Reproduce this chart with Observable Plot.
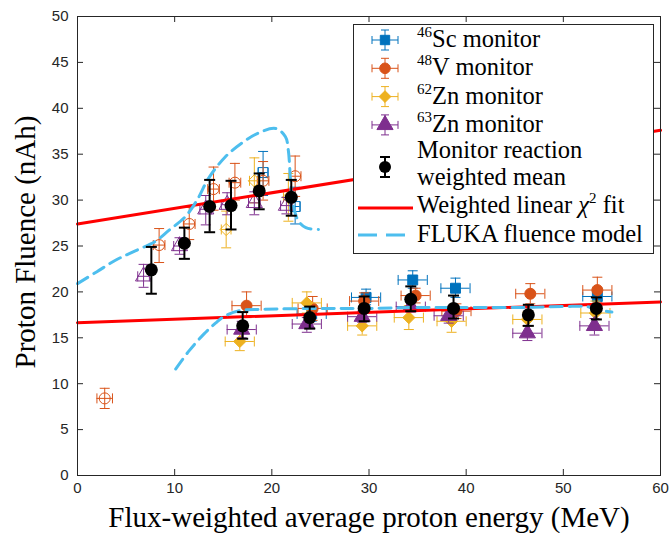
<!DOCTYPE html>
<html><head><meta charset="utf-8">
<script src="https://cdn.jsdelivr.net/npm/d3@7"></script>
<script src="https://cdn.jsdelivr.net/npm/@observablehq/plot@0.6"></script>
<style>
body{margin:0;background:#fff}
#wrap{position:relative;width:670px;height:533px;overflow:hidden;background:#fff}
#legend{position:absolute;left:353px;top:24px}
</style></head><body><div id="wrap"></div>
<script>
// ---- data ----
const xTicks = [0, 10, 20, 30, 40, 50, 60];
const yTicks = [0, 5, 10, 15, 20, 25, 30, 35, 40, 45, 50];
const xTitle = "Flux-weighted average proton energy (MeV)";
const yTitle = "Proton Fluence (nAh)";

// 46Sc monitor
const scX   = [19.1, 22.4, 24.1, 29.7, 34.5, 38.9, 53.5];
const scY   = [33.0, 29.3, 17.6, 19.4, 21.3, 20.4, 19.5];
const scLo  = [30.5, 27.4, 16.8, 18.6, 20.4, 19.4, 18.6];
const scHi  = [35.3, 31.4, 18.4, 20.3, 22.3, 21.5, 20.4];
const scXe  = [0.5, 0.5, 1.5, 1.5, 1.5, 1.5, 1.5];
const scOpen= [1, 1, 0, 0, 0, 0, 0];

// 48V monitor
const vX   = [2.8, 8.4, 11.5, 14.0, 16.2, 19.1, 22.4, 17.4, 24.2, 29.5, 34.8, 39.0, 46.6, 53.5];
const vY   = [8.4, 25.1, 27.4, 31.2, 31.9, 32.1, 32.6, 18.5, 18.2, 19.0, 19.6, 17.9, 19.8, 20.2];
const vLo  = [7.3, 23.2, 25.7, 28.9, 30.0, 30.0, 30.4, 17.2, 16.9, 18.1, 18.8, 17.1, 18.7, 18.8];
const vHi  = [9.5, 26.9, 29.2, 33.6, 34.0, 34.2, 34.8, 20.0, 19.5, 19.9, 20.4, 18.7, 20.9, 21.6];
const vXe  = [0.8, 0.6, 0.6, 0.6, 0.6, 0.6, 0.6, 1.5, 1.5, 1.5, 1.5, 1.5, 1.5, 1.5];
const vOpen= [1, 1, 1, 1, 1, 1, 1, 0, 0, 0, 0, 0, 0, 0];

// 62Zn monitor
const z62X   = [15.3, 18.2, 21.7, 16.7, 23.6, 29.3, 34.1, 38.5, 46.3, 53.3];
const z62Y   = [26.8, 32.1, 30.3, 14.6, 18.8, 16.3, 17.2, 16.8, 17.0, 17.7];
const z62Lo  = [24.8, 29.7, 27.7, 13.6, 17.7, 15.3, 15.9, 15.6, 16.3, 16.4];
const z62Hi  = [28.8, 34.6, 32.9, 15.6, 20.0, 17.3, 18.5, 17.9, 17.8, 19.0];
const z62Xe  = [0.5, 0.5, 0.5, 1.5, 1.5, 1.5, 1.5, 1.5, 1.5, 1.5];
const z62Open= [1, 1, 1, 0, 0, 0, 0, 0, 0, 0];

// 63Zn monitor
const z63X   = [6.8, 10.5, 13.2, 15.4, 18.2, 21.5, 16.9, 23.6, 29.3, 34.3, 38.2, 46.3, 53.2];
const z63Y   = [21.7, 25.0, 29.0, 29.5, 29.7, 29.4, 15.9, 16.5, 17.3, 18.4, 17.4, 15.5, 16.3];
const z63Lo  = [20.5, 24.1, 27.3, 28.4, 28.4, 28.5, 15.0, 15.6, 16.7, 17.8, 16.6, 14.7, 15.3];
const z63Hi  = [23.0, 25.9, 30.5, 30.8, 30.9, 30.3, 16.8, 17.2, 17.9, 19.0, 18.3, 16.3, 17.1];
const z63Xe  = [0.6, 0.6, 0.6, 0.6, 0.6, 0.6, 1.5, 1.5, 1.5, 1.5, 1.5, 1.5, 1.5];
const z63Open= [1, 1, 1, 1, 1, 1, 0, 0, 0, 0, 0, 0, 0];

// Monitor reaction weighted mean
const mX  = [7.6, 11.0, 13.6, 15.8, 18.7, 22.0, 17.0, 23.9, 29.5, 34.3, 38.7, 46.4, 53.4];
const mY  = [22.4, 25.3, 29.3, 29.4, 31.0, 30.3, 16.3, 17.2, 18.2, 19.2, 18.2, 17.5, 18.2];
const mLo = [19.8, 23.6, 26.5, 26.8, 29.0, 28.3, 14.9, 16.0, 16.8, 17.9, 17.1, 16.3, 17.0];
const mHi = [24.9, 27.0, 32.2, 32.1, 32.9, 32.2, 17.8, 18.4, 19.5, 20.6, 19.6, 18.6, 19.4];

// Weighted linear chi^2 fits
const fitX = [0, 60];
const fitUpper = [27.4, 37.6];
const fitLower = [16.65, 18.9];

// FLUKA fluence model
const fuX = [0, 2, 4, 6, 8, 9.4, 11.1, 12.3, 13.5, 15.2, 16.9, 18.6, 20.4, 21.4, 21.7, 21.9, 22.1, 22.7, 23.5, 24.8];
const fuY = [20.9, 22.2, 23.5, 24.5, 25.5, 26.7, 28.2, 30.0, 32.4, 34.7, 36.2, 37.3, 37.8, 36.9, 35.4, 32.5, 30.0, 27.8, 27.0, 26.8];
const flX = [10.1, 11.5, 13.0, 14.2, 15.2, 16.9, 19.0, 25, 30, 35, 40, 45, 50, 52.5, 53.8, 55.0];
const flY = [11.6, 13.6, 15.4, 16.6, 17.4, 18.0, 18.1, 18.2, 18.2, 18.3, 18.3, 18.3, 18.4, 18.4, 18.0, 17.8];

// legend labels
const legendMonitors = [
  {sup: "46", name: "Sc monitor", color: "#0072BD", symbol: "square"},
  {sup: "48", name: "V monitor", color: "#D95319", symbol: "circle"},
  {sup: "62", name: "Zn monitor", color: "#EDB120", symbol: "diamond2"},
  {sup: "63", name: "Zn monitor", color: "#7E2F8E", symbol: "triangle"}
];

// ---- drawing ----
const W = 670, H = 533, ML = 77, MR = 10, MT = 16, MB = 58;
const PW = W - ML - MR, PH = H - MT - MB;
const AX = "#262626";
const hCap = {draw(ctx, size) { const w = Math.sqrt(size / Math.PI); ctx.moveTo(-w, 0); ctx.lineTo(w, 0); }};
const vCap = {draw(ctx, size) { const w = Math.sqrt(size / Math.PI); ctx.moveTo(0, -w); ctx.lineTo(0, w); }};

function rows(X, Y, Lo, Hi, Xe, Open) {
  return X.map((x, i) => ({x, y: Y[i], lo: Lo[i], hi: Hi[i], xe: Xe ? Xe[i] : 0, open: Open ? Open[i] : 0}));
}
function monitorMarks(d, color, symbol, r) {
  return [
    Plot.ruleX(d, {x: "x", y1: "lo", y2: "hi", stroke: color, strokeWidth: 1}),
    Plot.ruleY(d, {y: "y", x1: e => e.x - e.xe, x2: e => e.x + e.xe, stroke: color, strokeWidth: 1}),
    Plot.dot(d, {x: "x", y: "lo", symbol: hCap, r: 5, stroke: color, fill: "none", strokeWidth: 1}),
    Plot.dot(d, {x: "x", y: "hi", symbol: hCap, r: 5, stroke: color, fill: "none", strokeWidth: 1}),
    Plot.dot(d, {x: e => e.x - e.xe, y: "y", symbol: vCap, r: 5, stroke: color, fill: "none", strokeWidth: 1}),
    Plot.dot(d, {x: e => e.x + e.xe, y: "y", symbol: vCap, r: 5, stroke: color, fill: "none", strokeWidth: 1}),
    Plot.dot(d.filter(e => e.open), {x: "x", y: "y", symbol, r, stroke: color, fill: "none", strokeWidth: 1}),
    Plot.dot(d.filter(e => !e.open), {x: "x", y: "y", symbol, r, stroke: color, fill: color, strokeWidth: 1})
  ];
}

const sc = rows(scX, scY, scLo, scHi, scXe, scOpen);
const v = rows(vX, vY, vLo, vHi, vXe, vOpen);
const z62 = rows(z62X, z62Y, z62Lo, z62Hi, z62Xe, z62Open);
const z63 = rows(z63X, z63Y, z63Lo, z63Hi, z63Xe, z63Open);
const mean = rows(mX, mY, mLo, mHi);
const fitU = fitX.map((x, i) => ({x, y: fitUpper[i]}));
const fitL = fitX.map((x, i) => ({x, y: fitLower[i]}));
const fu = fuX.map((x, i) => ({x, y: fuY[i]}));
const fl = flX.map((x, i) => ({x, y: flY[i]}));

const serif = "'Liberation Serif', 'Times New Roman', serif";
const chart = Plot.plot({
  width: W, height: H,
  marginLeft: ML, marginRight: MR, marginTop: MT, marginBottom: MB,
  x: {domain: [0, 60]},
  y: {domain: [0, 50]},
  style: {fontFamily: "'Liberation Sans', Arial, sans-serif", fontSize: "15px", color: AX, background: "white", overflow: "visible"},
  marks: [
    // inward ticks
    Plot.ruleX(xTicks, {x: d => d, insetTop: PH - 6, stroke: AX}),
    Plot.ruleX(xTicks, {x: d => d, insetBottom: PH - 6, stroke: AX}),
    Plot.ruleY(yTicks, {y: d => d, insetRight: PW - 6, stroke: AX}),
    Plot.ruleY(yTicks, {y: d => d, insetLeft: PW - 6, stroke: AX}),
    Plot.axisX({ticks: xTicks, tickSize: 0, tickPadding: 7, label: null, fill: AX}),
    Plot.axisY({ticks: yTicks, tickSize: 0, tickPadding: 9, label: null, fill: AX}),
    ...monitorMarks(sc, "#0072BD", "square", 5.6),
    ...monitorMarks(v, "#D95319", "circle", 5.5),
    ...monitorMarks(z62, "#EDB120", "diamond2", 5.5),
    ...monitorMarks(z63, "#7E2F8E", "triangle", 6),
    Plot.line(fitU, {x: "x", y: "y", stroke: "#FF0000", strokeWidth: 3}),
    Plot.line(fitL, {x: "x", y: "y", stroke: "#FF0000", strokeWidth: 3}),
    Plot.line(fu, {x: "x", y: "y", stroke: "#4DBEEE", strokeWidth: 3, strokeDasharray: "12,7", curve: "catmull-rom"}),
    Plot.line(fl, {x: "x", y: "y", stroke: "#4DBEEE", strokeWidth: 3, strokeDasharray: "12,7", curve: "catmull-rom"}),
    // weighted mean
    Plot.ruleX(mean, {x: "x", y1: "lo", y2: "hi", stroke: "black", strokeWidth: 2}),
    Plot.dot(mean, {x: "x", y: "lo", symbol: hCap, r: 5.5, stroke: "black", fill: "none", strokeWidth: 2}),
    Plot.dot(mean, {x: "x", y: "hi", symbol: hCap, r: 5.5, stroke: "black", fill: "none", strokeWidth: 2}),
    Plot.dot(mean, {x: "x", y: "y", r: 6.5, fill: "black", stroke: "none"}),
    Plot.frame({stroke: AX, strokeWidth: 1}),
    Plot.text([xTitle], {text: d => d, frameAnchor: "bottom", dy: 51, lineAnchor: "bottom", textAnchor: "middle",
      fontFamily: serif, fontSize: 29, fill: "black"}),
    Plot.text([yTitle], {text: d => d, frameAnchor: "left", dx: -43, dy: -4, rotate: -90, lineAnchor: "bottom", textAnchor: "middle",
      fontFamily: serif, fontSize: 29, fill: "black"})
  ]
});
document.getElementById("wrap").appendChild(chart);

// ---- legend ----
const LW = 300, LH = 229;
const lg = d3.select("#wrap").append("svg").attr("id", "legend")
  .attr("width", LW + 1).attr("height", LH + 1);
lg.append("rect").attr("x", 0.5).attr("y", 0.5).attr("width", LW).attr("height", LH)
  .attr("fill", "white").attr("stroke", AX).attr("stroke-width", 1);
const symX = 32, textX = 64, fs = 24.5;
const symbolMap = {square: d3.symbolSquare, circle: d3.symbolCircle, diamond2: d3.symbolDiamond2, triangle: d3.symbolTriangle};
legendMonitors.forEach((m, i) => {
  const cy = 16 + i * 28.3;
  const g = lg.append("g").attr("stroke", m.color).attr("fill", "none");
  g.append("line").attr("x1", symX).attr("x2", symX).attr("y1", cy - 10).attr("y2", cy + 10);
  g.append("line").attr("x1", symX - 13).attr("x2", symX + 13).attr("y1", cy).attr("y2", cy);
  g.append("line").attr("x1", symX - 4).attr("x2", symX + 4).attr("y1", cy - 10).attr("y2", cy - 10);
  g.append("line").attr("x1", symX - 4).attr("x2", symX + 4).attr("y1", cy + 10).attr("y2", cy + 10);
  g.append("line").attr("x1", symX - 13).attr("x2", symX - 13).attr("y1", cy - 4).attr("y2", cy + 4);
  g.append("line").attr("x1", symX + 13).attr("x2", symX + 13).attr("y1", cy - 4).attr("y2", cy + 4);
  const rr = m.symbol === "triangle" ? 6 : 5.3;
  g.append("path").attr("transform", `translate(${symX},${cy})`)
    .attr("d", d3.symbol(symbolMap[m.symbol], Math.PI * rr * rr)()).attr("fill", m.color);
  const t = lg.append("text").attr("x", textX).attr("y", cy + 7).attr("font-family", serif)
    .attr("font-size", fs).attr("fill", "black");
  t.append("tspan").attr("font-size", 15).attr("dy", -10).text(m.sup);
  t.append("tspan").attr("dy", 10).text(m.name);
});
// weighted mean entry
{
  const cy = 143;
  const g = lg.append("g").attr("stroke", "black").attr("stroke-width", 2);
  g.append("line").attr("x1", symX).attr("x2", symX).attr("y1", cy - 10).attr("y2", cy + 10);
  g.append("line").attr("x1", symX - 5).attr("x2", symX + 5).attr("y1", cy - 10).attr("y2", cy - 10);
  g.append("line").attr("x1", symX - 5).attr("x2", symX + 5).attr("y1", cy + 10).attr("y2", cy + 10);
  lg.append("circle").attr("cx", symX).attr("cy", cy).attr("r", 6).attr("fill", "black");
  lg.append("text").attr("x", textX).attr("y", 134).attr("font-family", serif).attr("font-size", fs).text("Monitor reaction");
  lg.append("text").attr("x", textX).attr("y", 161).attr("font-family", serif).attr("font-size", fs).text("weighted mean");
}
// fit entry
{
  const cy = 184;
  lg.append("line").attr("x1", 5).attr("x2", 60).attr("y1", cy).attr("y2", cy).attr("stroke", "#FF0000").attr("stroke-width", 3);
  const t = lg.append("text").attr("x", textX).attr("y", 189).attr("font-family", serif).attr("font-size", fs);
  t.append("tspan").text("Weighted linear ");
  t.append("tspan").attr("font-style", "italic").text("χ");
  t.append("tspan").attr("font-size", 15).attr("dy", -10).text("2");
  t.append("tspan").attr("dy", 10).text(" fit");
}
// FLUKA entry
{
  const cy = 211;
  lg.append("line").attr("x1", 5).attr("x2", 60).attr("y1", cy).attr("y2", cy).attr("stroke", "#4DBEEE")
    .attr("stroke-width", 3).attr("stroke-dasharray", "19,9");
  lg.append("text").attr("x", textX).attr("y", 218).attr("font-family", serif).attr("font-size", fs).text("FLUKA fluence model");
}
</script></body></html>
